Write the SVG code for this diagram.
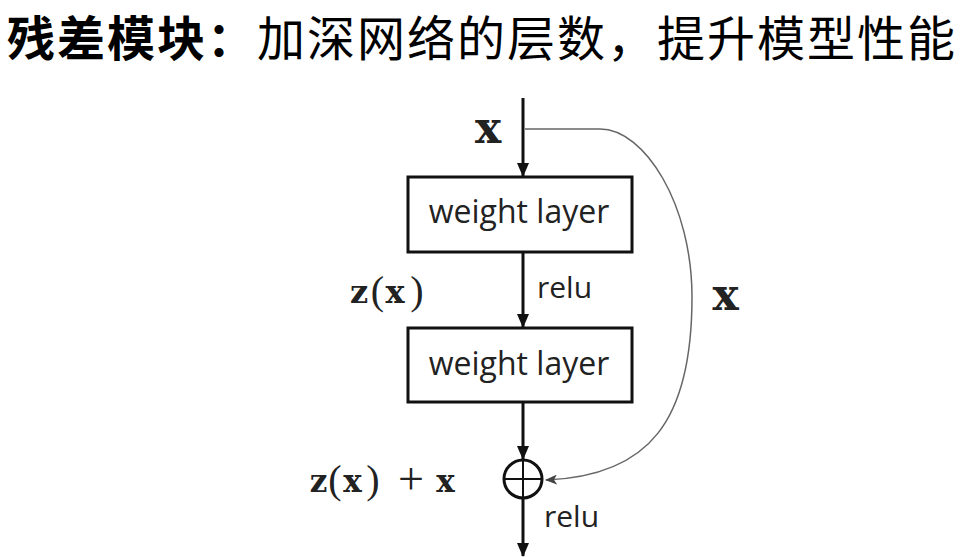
<svg xmlns="http://www.w3.org/2000/svg" width="973" height="557" viewBox="0 0 973 557">
<defs>
<style>
.title{font-family:"Noto Sans CJK SC","Noto Sans CJK JP",sans-serif;font-size:48px;letter-spacing:2px;fill:#000}
.box{fill:#fff;stroke:#111;stroke-width:3}
.lbl{font-family:"Open Sans","Noto Sans",sans-serif;fill:#222;text-anchor:middle}
.rl{font-family:"Open Sans","Noto Sans",sans-serif;font-size:30px;fill:#222}
.m{font-family:"DejaVu Serif",serif;font-weight:bold;fill:#222;text-anchor:middle}
.p{font-family:"Liberation Serif",serif;font-weight:normal;fill:#222;text-anchor:middle}
.main{stroke:#111;stroke-width:3;fill:none}
.skip{stroke:#666;stroke-width:1.5;fill:none}
</style>
<marker id="ah" markerUnits="userSpaceOnUse" markerWidth="14" markerHeight="14" refX="13" refY="6" orient="auto" viewBox="0 0 14 12">
<path d="M0,0 L14,6 L0,12 Z" fill="#111"/>
</marker>
<marker id="ahs" markerUnits="userSpaceOnUse" markerWidth="12" markerHeight="10" refX="11" refY="5" orient="auto" viewBox="0 0 12 10">
<path d="M0,0 L12,5 L0,10 L3,5 Z" fill="#444"/>
</marker>
</defs>
<rect width="973" height="557" fill="#fff"/>
<text class="title" x="7" y="55.5"><tspan font-weight="bold">残差模块：</tspan>加深网络的层数，提升模型性能</text>
<g id="connectors">
<line class="main" x1="523" y1="98" x2="523" y2="176" marker-end="url(#ah)"/>
<line class="main" x1="523" y1="252" x2="523" y2="327" marker-end="url(#ah)"/>
<line class="main" x1="523" y1="402" x2="523" y2="459" marker-end="url(#ah)"/>
<line class="main" x1="523" y1="499" x2="523" y2="556" marker-end="url(#ah)"/>
<path class="skip" d="M525,129 H600 C645,129 692,205 692,297 C692,420 650,476 546,480" marker-end="url(#ahs)"/>
</g>
<g id="x-in">
<text class="m" x="488" y="143" font-size="44">x</text>
</g>
<g id="weight1">
<rect class="box" x="408" y="177" width="224" height="75"/>
<text class="lbl" x="519" y="223" font-size="32">weight layer</text>
</g>
<g id="relu1">
<text class="rl" x="537" y="298">relu</text>
</g>
<g id="zx">
<text class="m" x="359" y="303" font-size="32">z</text>
<text class="p" x="377.5" y="304" font-size="40">(</text>
<text class="m" x="395" y="303" font-size="32">x</text>
<text class="p" x="417" y="304" font-size="40">)</text>
</g>
<g id="x-skip">
<text class="m" x="725.5" y="310" font-size="44">x</text>
</g>
<g id="weight2">
<rect class="box" x="408" y="328" width="224" height="74"/>
<text class="lbl" x="519" y="375" font-size="32">weight layer</text>
</g>
<g id="sum">
<circle cx="523" cy="479" r="19" fill="#fff" stroke="#111" stroke-width="3"/>
<line x1="505" y1="479" x2="541" y2="479" stroke="#111" stroke-width="2"/>
<line x1="523" y1="461" x2="523" y2="497" stroke="#111" stroke-width="2"/>
</g>
<g id="zxplusx">
<text class="m" x="318.5" y="492" font-size="31">z</text>
<text class="p" x="335" y="493" font-size="40">(</text>
<text class="m" x="352.5" y="492" font-size="31">x</text>
<text class="p" x="373" y="493" font-size="40">)</text>
<text class="p" x="411" y="494" font-size="46">+</text>
<text class="m" x="445.5" y="492" font-size="31">x</text>
</g>
<g id="relu2">
<text class="rl" x="544" y="527">relu</text>
</g>
</svg>
